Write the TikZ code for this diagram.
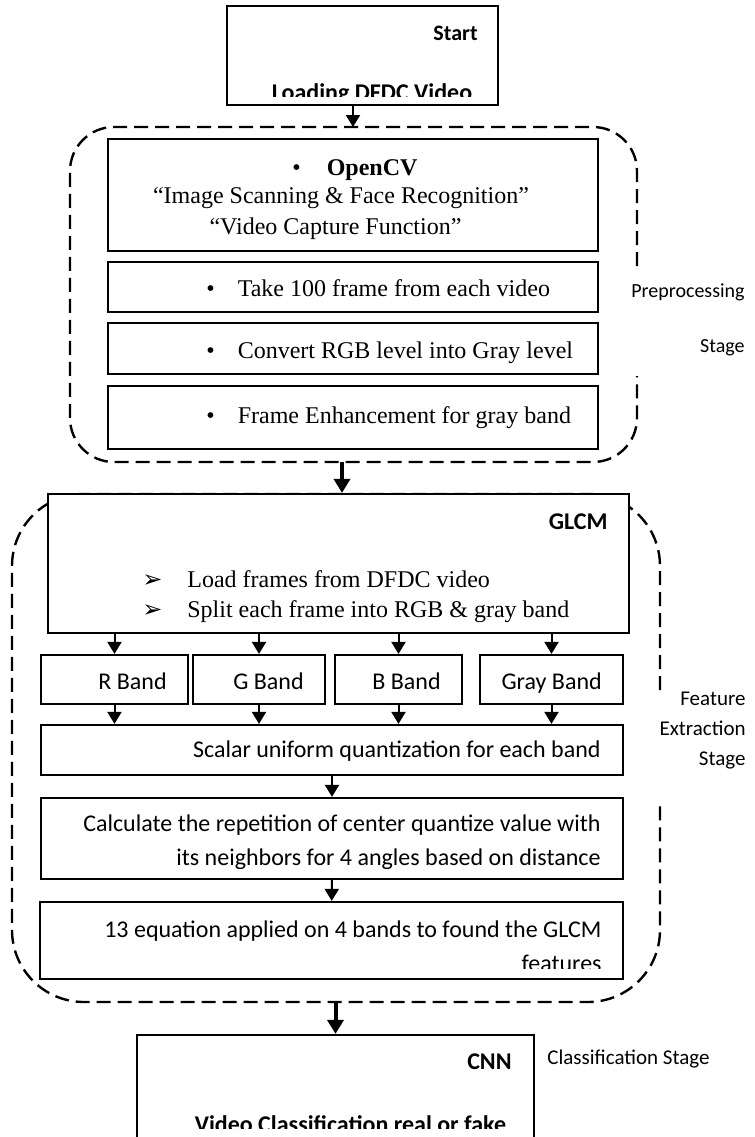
\documentclass[tikz,border=0pt]{standalone}
\usepackage{fontspec}
\setmainfont{Liberation Serif}
\newfontfamily\calibri{Carlito}
\newfontfamily\dingfont{DejaVu Sans}
\usetikzlibrary{arrows.meta}
\tikzset{
    box/.style={draw,line width=1.1pt,fill=white,inner sep=0pt},
    stage/.style={line width=1.2pt,dash pattern=on 7pt off 3.5pt,rounded corners=#1},
    arr/.style={line width=1pt,-{Triangle[length=6pt,width=7pt]}},
    bigarr/.style={line width=2pt,-{Triangle[length=7pt,width=8pt]}},
    serif/.style={font=\fontsize{12}{15}\selectfont,inner sep=0pt},
    sans/.style={font=\calibri\fontsize{12}{17}\selectfont,inner sep=0pt},
    head/.style={font=\calibri\bfseries\fontsize{12}{15}\selectfont,inner sep=0pt},
    tag/.style={font=\calibri\fontsize{10.5}{15}\selectfont,inner sep=0pt,align=right}
}
\def\arrowbullet{\makebox[22.5pt][l]{\dingfont\fontsize{12}{12}\selectfont ➢}}

\begin{document}
\begin{tikzpicture}[x=0.5pt,y=-0.5pt]
  \useasboundingbox (0,0) rectangle (755,1137);

  % Start
  \node[box,minimum width=135.5pt,minimum height=49.5pt] (start) at (362.5,55.5) {};
  \node[head,anchor=base east] at (478,40) {\fontsize{11}{13}\selectfont Start};
  \begin{scope}
    \clip (start.north west) rectangle ([yshift=5pt]start.south east);
    \node[head,anchor=base] at (372,100) {Loading DFDC Video};
  \end{scope}

  % Preprocessing stage
  \draw[stage=22pt] (637,266) -- (637,127) -- (70,127) -- (70,462) -- (637,462) -- (637,376);
  \coordinate (preN) at (353,127);
  \coordinate (preS) at (342,462);
  \node[box,minimum width=245pt,minimum height=56pt] (ocv) at (353,195) {};
  \node[box,minimum width=245pt,minimum height=25pt] (take) at (353,287) {};
  \node[box,minimum width=245pt,minimum height=25.5pt] (conv) at (353,348.5) {};
  \node[box,minimum width=245pt,minimum height=31.5pt] (enh) at (353,417.5) {};
  \node[serif,anchor=base west] at (292,175) {\textbullet\hspace{13pt}\textbf{OpenCV}};
  \node[serif,anchor=base] at (341,203) {“Image Scanning \& Face Recognition”};
  \node[serif,anchor=base] at (335.5,234) {“Video Capture Function”};
  \node[serif,anchor=base west] at (206,296) {\textbullet\hspace{11.5pt}Take 100 frame from each video};
  \node[serif,anchor=base west] at (206,358) {\textbullet\hspace{11.5pt}Convert RGB level into Gray level};
  \node[serif,anchor=base west] at (206,423) {\textbullet\hspace{11.5pt}Frame Enhancement for gray band};
  \node[tag,font=\calibri\fontsize{10}{27.5}\selectfont,anchor=east] (prelabel) at (745,320) {Preprocessing\\Stage};
  \draw[arr] (preN |- start.south) -- (preN);

  % Feature extraction stage
  \draw[stage=36pt] (660,690) -- (660,494) -- (12,494) -- (12,1002) -- (660,1002) -- (660,803);
  \coordinate (glcmS) at (335.5,1002);
  \node[box,minimum width=290.5pt,minimum height=69.5pt] (glcm) at (338.5,563.5) {};
  \draw[bigarr] (preS) -- (preS |- glcm.north);
  \node[head,anchor=base east] at (608,529) {GLCM};
  \node[serif,anchor=base west] at (142,587) {\arrowbullet Load frames from DFDC video};
  \node[serif,anchor=base west] at (142,617) {\arrowbullet Split each frame into RGB \& gray band};
  \foreach \n/\t/\x/\w in {rband/R/114.5/73.5,gband/G/259/66,bband/B/398.5/63.5,grayband/Gray/551.5/71.5}{
    \node[box,minimum width=\w pt,minimum height=24.5pt] (\n) at (\x,679.5) {};
    \node[sans,anchor=base east] at ([xshift=-11pt,yshift=-4.75pt]\n.east) {\t{} Band};
    \draw[arr] (glcm.south -| \n.north) -- (\n.north);
  }
  \node[box,minimum width=291pt,minimum height=25pt] (quant) at (332,750) {};
  \foreach \n in {rband,gband,bband,grayband}
    \draw[arr] (\n.south) -- (\n.south |- quant.north);
  \node[sans,anchor=base east] at (601,757) {Scalar uniform quantization for each band};
  \node[box,minimum width=291pt,minimum height=40.5pt] (calc) at (332,838.5) {};
  \draw[arr] (quant) -- (calc);
  \begin{scope}
    \clip (calc.north west) rectangle ([yshift=6pt]calc.south east);
    \node[sans,align=right,anchor=east] at (601,842) {Calculate the repetition of center quantize value with\\its neighbors for 4 angles based on distance};
  \end{scope}
  \node[box,minimum width=291.5pt,minimum height=38.5pt] (eq) at (331.5,940.5) {};
  \draw[arr] (calc) -- (eq);
  \begin{scope}
    \clip (eq.north west) rectangle ([yshift=6pt]eq.south east);
    \node[sans,align=right,anchor=east] at (602,946) {13 equation applied on 4 bands to found the GLCM\\features};
  \end{scope}
  \node[tag,anchor=east] (featlabel) at (746,731) {Feature\\Extraction\\Stage};

  % Classification stage
  \node[box,minimum width=198.5pt,minimum height=67.5pt] (cnn) at (335.5,1102.5) {};
  \draw[bigarr] (glcmS) -- (cnn.north);
  \node[head,anchor=base east] at (512,1069) {CNN};
  \begin{scope}
    \clip (cnn.north west) rectangle (534,1128);
    \node[head,anchor=base] at (350.5,1132) {Video Classification real or fake};
  \end{scope}
  \node[tag,anchor=base west] (clslabel) at (547,1064) {Classification Stage};
\end{tikzpicture}
\end{document}
